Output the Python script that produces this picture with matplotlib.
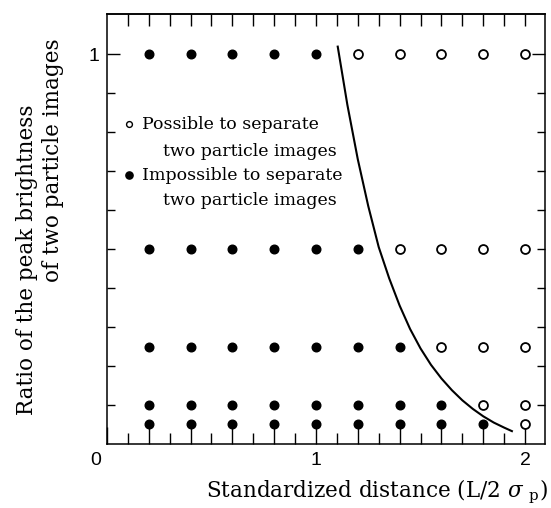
import matplotlib
matplotlib.use("Agg")
import matplotlib.pyplot as plt
from matplotlib.ticker import FixedLocator, NullFormatter

# grid of test points
distances = [0.2, 0.4, 0.6, 0.8, 1.0, 1.2, 1.4, 1.6, 1.8, 2.0]
ratios = [1.0, 0.5, 0.25, 0.1, 0.05]
# last distance (per ratio) where the two images could not be separated
last_impossible = [1.0, 1.2, 1.4, 1.6, 1.8]

# boundary curve
curve_x = [1.104, 1.15, 1.20, 1.25, 1.30, 1.35, 1.40, 1.45, 1.50, 1.55, 1.60,
           1.65, 1.70, 1.75, 1.80, 1.85, 1.90, 1.937]
curve_y = [1.019, 0.87, 0.73, 0.61, 0.505, 0.425, 0.355, 0.295, 0.245, 0.203, 0.168,
           0.138, 0.112, 0.090, 0.071, 0.055, 0.042, 0.033]

SERIF = "DejaVu Serif"
plt.rcParams["mathtext.fontset"] = "dejavuserif"

fig = plt.figure(figsize=(5.51, 5.08), dpi=100)
ax = fig.add_axes([0.194, 0.126, 0.795, 0.8464])

for r, lim in zip(ratios, last_impossible):
    imp = [d for d in distances if d <= lim + 1e-9]
    pos = [d for d in distances if d > lim + 1e-9]
    ax.plot(imp, [r] * len(imp), "o", ms=6.2, color="black", mec="black", clip_on=False)
    ax.plot(pos, [r] * len(pos), "o", ms=6.4, mfc="white", mec="black", mew=1.3, clip_on=False)

ax.plot(curve_x, curve_y, color="black", lw=1.5)

ax.set_xlim(0, 2.095)
ax.set_ylim(0, 1.1026)

for s in ax.spines.values():
    s.set_linewidth(1.1)

# x axis (bottom)
ax.xaxis.set_major_locator(FixedLocator([0.2 * i for i in range(11)]))
ax.xaxis.set_minor_locator(FixedLocator([0.1 + 0.2 * i for i in range(10)]))
ax.set_xticklabels(["", "", "", "", "", "1", "", "", "", "", "2"])
ax.tick_params(axis="x", which="major", direction="in", length=12, width=1.0, pad=5.5,
               labelsize=14)
ax.tick_params(axis="x", which="minor", direction="in", length=8, width=1.0)
for lab in ax.get_xticklabels():
    lab.set_fontfamily("Liberation Sans")
ax.annotate("0", xy=(0, 0), xycoords="data", xytext=(-8, -5.5), textcoords="offset points",
            ha="center", va="top", fontsize=14, family="Liberation Sans")

# top ticks
top = ax.secondary_xaxis("top")
top.set_xticks([0.1 * i for i in range(1, 21)])
top.xaxis.set_major_formatter(NullFormatter())
top.tick_params(direction="in", length=8.6, width=1.0)
top.spines["top"].set_linewidth(1.1)

# y axis
ax.yaxis.set_major_locator(FixedLocator([1.0]))
ax.yaxis.set_minor_locator(FixedLocator([0.1 * i for i in range(1, 10)]))
ax.set_yticklabels(["1"])
ax.tick_params(axis="y", which="major", direction="in", length=9.4, width=1.0, pad=5.5,
               left=True, right=True, labelsize=14)
ax.tick_params(axis="y", which="minor", direction="in", length=5.8, width=1.0,
               left=True, right=True)
for lab in ax.get_yticklabels():
    lab.set_fontfamily("Liberation Sans")

# axis labels
fig.text(548 / 551, 1 - 492 / 508, r"Standardized distance (L/2 $\sigma$ $_{\rm p}$)",
         ha="right", va="center", fontsize=15.5, family=SERIF)
fig.text(27 / 551, 1 - 260 / 508, "Ratio of the peak brightness", rotation=90,
         ha="center", va="center", fontsize=15.5, family=SERIF)
fig.text(53 / 551, 1 - 160 / 508, "of two particle images", rotation=90,
         ha="center", va="center", fontsize=15.5, family=SERIF)

# legend
ax.plot([0.105], [(444 - 124) / 390], "o", ms=4.2, mfc="white", mec="black", mew=1.0)
ax.plot([0.105], [(444 - 175) / 390], "o", ms=5.2, color="black")
leg_kw = dict(ha="left", va="center", fontsize=12.5, family=SERIF)
ax.text(0.166, (444 - 124) / 390, "Possible to separate", **leg_kw)
ax.text(0.267, (444 - 151) / 390, "two particle images", **leg_kw)
ax.text(0.166, (444 - 175) / 390, "Impossible to separate", **leg_kw)
ax.text(0.267, (444 - 200) / 390, "two particle images", **leg_kw)

fig.savefig("out.png", dpi=100)
